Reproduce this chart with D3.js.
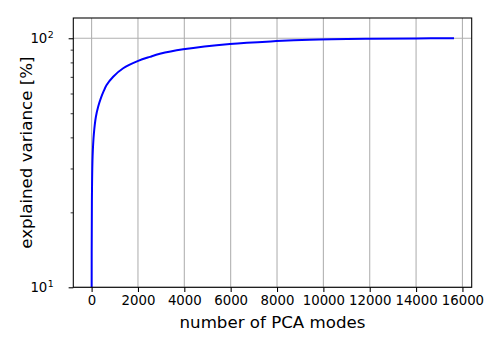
<!DOCTYPE html>
<html>
<head>
<meta charset="utf-8">
<script src="https://cdn.jsdelivr.net/npm/d3@7"></script>
<style>
  body { margin: 0; background: #fff; }
  text { font-family: "DejaVu Sans", sans-serif; fill: #000; }
</style>
</head>
<body>
<div id="chart"></div>
<script>
// Data
var modes = [1, 12, 43, 99, 185, 285, 400, 520, 647, 931, 1363, 2010, 2514, 2945, 3950, 5964, 7978, 9414, 12000, 14000, 15637];
var explained = [8, 22, 33.5, 41.5, 48.4, 53.2, 57.5, 61.3, 64.9, 70.1, 75.8, 81.1, 84.2, 86.6, 90.3, 94.9, 97.4, 98.6, 99.5, 99.85, 100];
var xTicks = [0, 2000, 4000, 6000, 8000, 10000, 12000, 14000, 16000];
var yMajor = [10, 100];
var yMinor = [20, 30, 40, 50, 60, 70, 80, 90];

var svgWidth = 500;
var svgHeight = 350;

var margin = { top: 18, right: 28.3, bottom: 62.7, left: 73.3 };
var width = svgWidth - margin.left - margin.right;
var height = svgHeight - margin.top - margin.bottom;

var svg = d3.select("#chart")
    .append("svg")
    .attr("width", svgWidth)
    .attr("height", svgHeight);

svg.append("rect").attr("width", svgWidth).attr("height", svgHeight).attr("fill", "#fff");

var chartGroup = svg.append("g")
    .attr("transform", `translate(${margin.left}, ${margin.top})`);

var x = d3.scaleLinear().domain([-790, 16400]).range([0, width]);
var y = d3.scaleLog().domain([10, 120.6]).range([height, 0]);

// grid
chartGroup.selectAll(".vgrid")
    .data(xTicks)
    .enter()
    .append("line")
    .attr("x1", d => x(d)).attr("x2", d => x(d))
    .attr("y1", 0).attr("y2", height)
    .attr("stroke", "#b0b0b0")
    .attr("stroke-width", 1.07);

chartGroup.selectAll(".hgrid")
    .data(yMajor)
    .enter()
    .append("line")
    .attr("x1", 0).attr("x2", width)
    .attr("y1", d => y(d)).attr("y2", d => y(d))
    .attr("stroke", "#b0b0b0")
    .attr("stroke-width", 1.07);

// line
chartGroup.append("clipPath").attr("id", "clip")
    .append("rect").attr("width", width).attr("height", height);

var points = modes.map((m, i) => [m, explained[i]]);

var line = d3.line()
    .x(d => x(d[0]))
    .y(d => y(d[1]))
    .curve(d3.curveCatmullRom.alpha(0.5));

chartGroup.append("path")
    .datum(points)
    .attr("clip-path", "url(#clip)")
    .attr("fill", "none")
    .attr("stroke", "#0000ff")
    .attr("stroke-width", 2)
    .attr("d", line);

// x axis
var bottomAxis = d3.axisBottom(x)
    .tickValues(xTicks)
    .tickFormat(d3.format("d"))
    .tickSize(4.67)
    .tickPadding(3.6);

var xAxisG = chartGroup.append("g")
    .attr("transform", `translate(0, ${height})`)
    .call(bottomAxis);
xAxisG.select(".domain").remove();
xAxisG.selectAll("line").attr("stroke", "#000").attr("stroke-width", 1.07);
xAxisG.selectAll("text").style("font-size", "13.3px").style("font-family", "DejaVu Sans");

// y axis: major and minor ticks
var leftAxis = d3.axisLeft(y)
    .tickValues(yMajor)
    .tickFormat("")
    .tickSize(4.67);
var yAxisG = chartGroup.append("g").call(leftAxis);
yAxisG.select(".domain").remove();
yAxisG.selectAll("line").attr("stroke", "#000").attr("stroke-width", 1.07);

var minorAxis = d3.axisLeft(y)
    .tickValues(yMinor)
    .tickFormat("")
    .tickSize(2.67);
var yMinorG = chartGroup.append("g").call(minorAxis);
yMinorG.select(".domain").remove();
yMinorG.selectAll("line").attr("stroke", "#000").attr("stroke-width", 0.8);

// y tick labels as 10^n
var yLabels = chartGroup.selectAll(".ylab")
    .data(yMajor)
    .enter()
    .append("text")
    .attr("x", -19.5)
    .attr("y", d => y(d) + 4.8)
    .attr("text-anchor", "end")
    .style("font-size", "13.3px")
    .text("10");

yLabels.append("tspan")
    .attr("dy", -5.5)
    .attr("dx", 0.5)
    .style("font-size", "9.4px")
    .text(d => Math.round(Math.log10(d)));

// frame
chartGroup.append("rect")
    .attr("width", width)
    .attr("height", height)
    .attr("fill", "none")
    .attr("stroke", "#000")
    .attr("stroke-width", 1.07);

// axis labels
chartGroup.append("text")
    .attr("x", width / 2)
    .attr("y", height + 41)
    .attr("text-anchor", "middle")
    .style("font-size", "16.67px")
    .text("number of PCA modes");

chartGroup.append("text")
    .attr("transform", "rotate(-90)")
    .attr("x", -height / 2)
    .attr("y", -41.5)
    .attr("text-anchor", "middle")
    .style("font-size", "16.67px")
    .text("explained variance [%]");
</script>
</body>
</html>
